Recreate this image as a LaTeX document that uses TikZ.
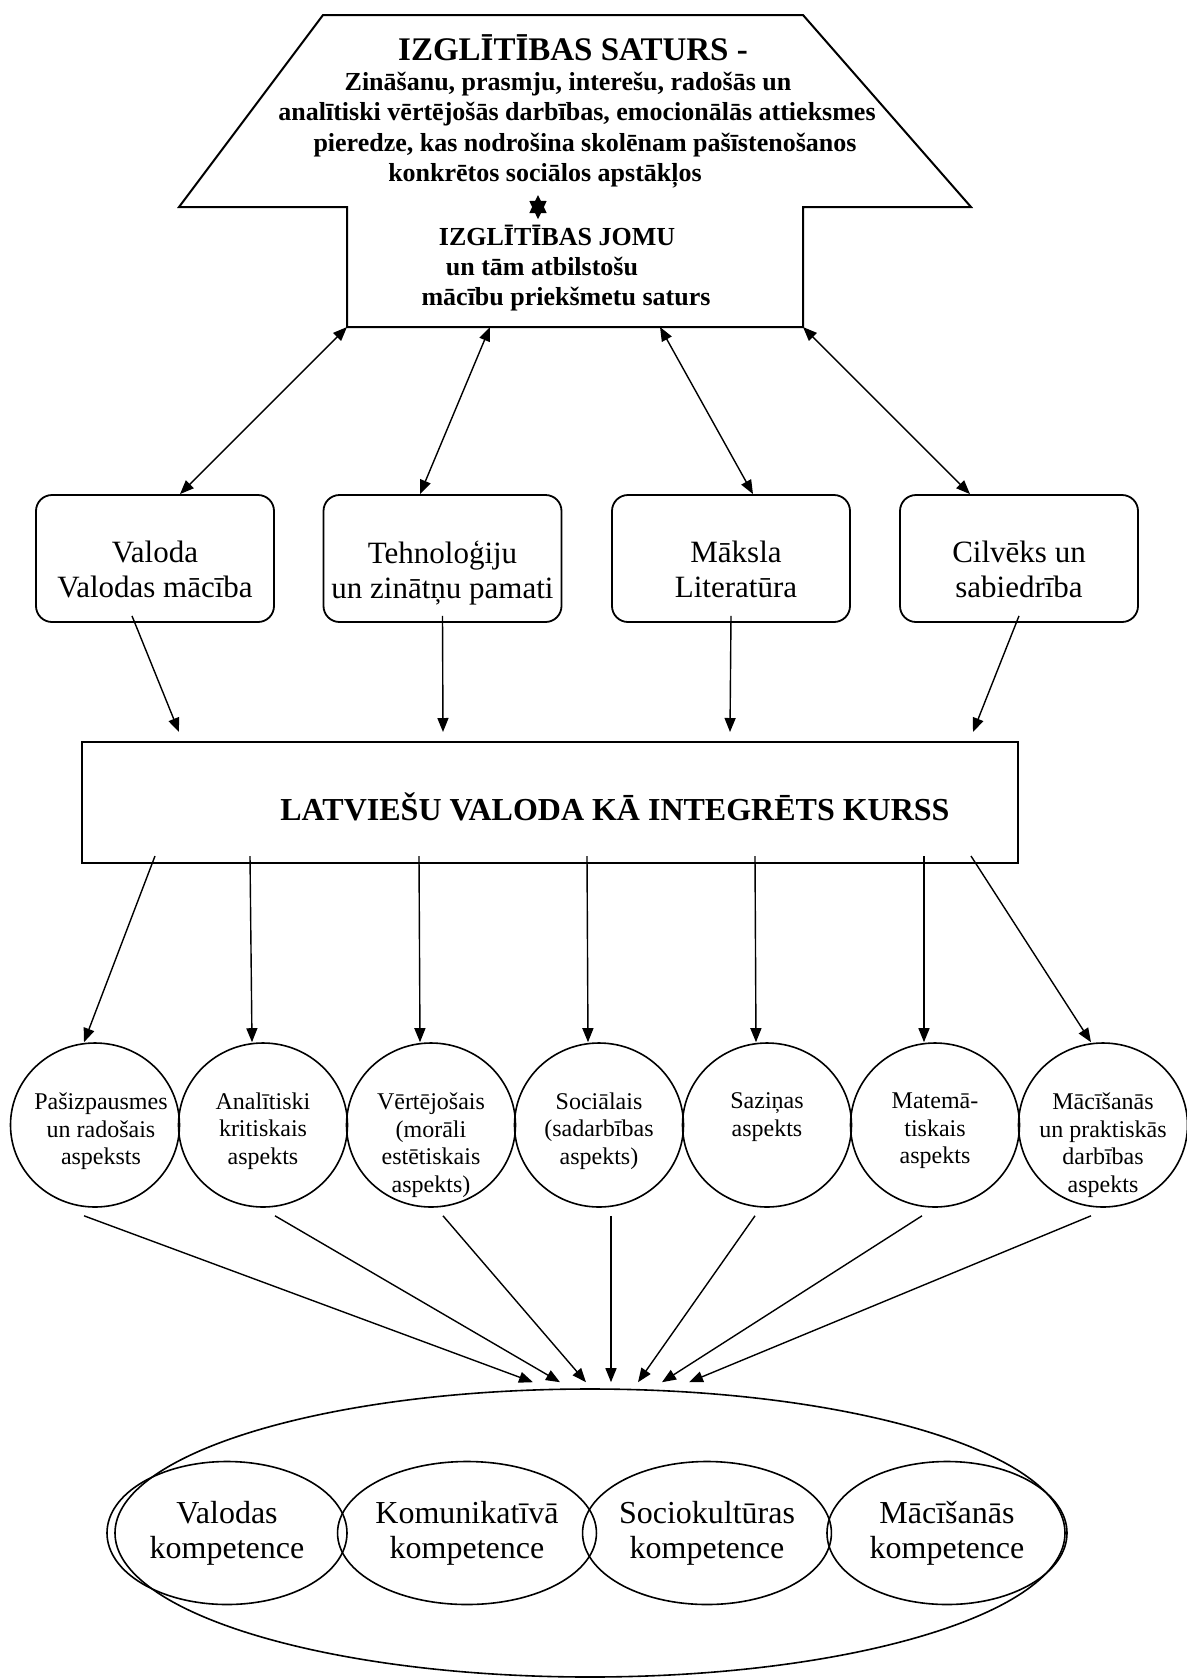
\documentclass[tikz,border=0pt]{standalone}
\usepackage{fontspec}
\setmainfont{Liberation Serif}
\usepackage{tikz}
\usetikzlibrary{arrows.meta, shapes.geometric}

\tikzset{
    area/.style={draw, rounded corners=8pt, line width=0.9pt, minimum width=119pt, minimum height=63.5pt, inner sep=0pt},
    areatext/.style={anchor=north, align=center, inner sep=0pt, font=\fontsize{15.5}{17.5}\selectfont},
    aspect/.style={draw, ellipse, line width=0.8pt, minimum width=84.5pt, minimum height=82pt, inner sep=0pt},
    aspecttext/.style={anchor=north, align=center, inner sep=0pt, font=\fontsize{12}{13.8}\selectfont},
    comp/.style={draw, ellipse, line width=0.8pt, minimum width=120pt, minimum height=71.5pt, inner sep=0pt, align=center, font=\fontsize{16}{17.5}\selectfont},
    head/.style={anchor=base, inner sep=0pt, font=\bfseries\fontsize{13}{15}\selectfont}
}

\begin{document}
\begin{tikzpicture}[x=0.5pt, y=-0.5pt, >={Triangle[length=7pt,width=5.5pt]}, line width=0.7pt]
    \useasboundingbox (0,0) rectangle (1187,1678);

    % top shape
    \draw[line width=1pt] (323,15) -- (803,15) -- (971,207) -- (803,207) -- (803,327) -- (347,327) -- (347,207) -- (179,207) -- cycle;
    \node[head, font=\bfseries\fontsize{16.5}{18}\selectfont] (ttl) at (573,60) {IZGLĪTĪBAS SATURS -};
    \node[head] (tl1) at (568,90.7) {Zināšanu, prasmju, interešu, radošās un};
    \node[head] (tl2) at (577,120.7) {analītiski vērtējošās darbības, emocionālās attieksmes};
    \node[head] (tl3) at (585,151.7) {pieredze, kas nodrošina skolēnam pašīstenošanos};
    \node[head] (tl4) at (545,181.7) {konkrētos sociālos apstākļos};
    \node[star, star points=6, star point ratio=1.7, fill, inner sep=0pt, minimum size=10pt, yscale=1.2] (st) at (538,207) {};
    \node[head] (jm1) at (557,245) {IZGLĪTĪBAS JOMU};
    \node[head] (jm2) at (542,275) {un tām atbilstošu};
    \node[head] (jm3) at (566,305) {mācību priekšmetu saturs};
    \coordinate (b1) at (347,327);
    \coordinate (b2) at (490,327);
    \coordinate (b3) at (660,327);
    \coordinate (b4) at (803,327);

    % areas
    \node[area] (val) at (155,558.5) {};
    \node[area] (teh) at (442.5,558.5) {};
    \node[area] (mak) at (731,558.5) {};
    \node[area] (cil) at (1019,558.5) {};
    \node[areatext] (valT) at (155,540) {Valoda\\Valodas mācība};
    \node[areatext] (tehT) at (442.5,540) {Tehnoloģiju\\un zinātņu pamati};
    \node[areatext] (makT) at (736,540) {Māksla\\Literatūra};
    \node[areatext] (cilT) at (1019,540) {Cilvēks un\\sabiedrība};

    \draw[<->] ([xshift=12.5pt]val.north) -- (b1);
    \draw[<->] ([xshift=-11.25pt]teh.north) -- (b2);
    \draw[<->] ([xshift=11pt]mak.north) -- (b3);
    \draw[<->] ([xshift=-24.5pt]cil.north) -- (b4);

    % course
    \node[draw, line width=1pt, minimum width=468pt, minimum height=60.5pt, inner sep=0pt] (lv) at (550,802.5) {};
    \node[anchor=base, inner sep=0pt, font=\bfseries\fontsize{16}{18}\selectfont] (lvT) at (615,820) {LATVIEŠU VALODA KĀ INTEGRĒTS KURSS};

    \draw[->] ([xshift=-11.5pt,yshift=3.5pt]val.south) -- ([xshift=-185.5pt,yshift=4.5pt]lv.north);
    \draw[->] ([yshift=3.5pt]teh.south) -- ([xshift=-53.5pt,yshift=4.5pt]lv.north);
    \draw[->] ([yshift=3.5pt]mak.south) -- ([xshift=90pt,yshift=4.5pt]lv.north);
    \draw[->] ([yshift=3.5pt]cil.south) -- ([xshift=211.5pt,yshift=4.5pt]lv.north);

    % aspects
    \node[aspect] (a1) at (95,1125) {};
    \node[aspect] (a2) at (263,1125) {};
    \node[aspect] (a3) at (431,1125) {};
    \node[aspect] (a4) at (599,1125) {};
    \node[aspect] (a5) at (767,1125) {};
    \node[aspect] (a6) at (935,1125) {};
    \node[aspect] (a7) at (1103,1125) {};
    \node[aspecttext] (a1T) at (101,1092) {Pašizpausmes\\un radošais\\aspeksts};
    \node[aspecttext] (a2T) at (263,1092) {Analītiski\\kritiskais\\aspekts};
    \node[aspecttext] (a3T) at (431,1092) {Vērtējošais\\(morāli\\estētiskais\\aspekts)};
    \node[aspecttext] (a4T) at (599,1092) {Sociālais\\(sadarbības\\aspekts)};
    \node[aspecttext] (a5T) at (767,1092) {Saziņas\\aspekts};
    \node[aspecttext] (a6T) at (935,1092) {Matemā-\\tiskais\\aspekts};
    \node[aspecttext] (a7T) at (1103,1092) {Mācīšanās\\un praktiskās\\darbības\\aspekts};

    \draw[->] ([xshift=-197.5pt,yshift=4pt]lv.south) -- ([xshift=-5.5pt]a1.north);
    \draw[->] ([xshift=-150pt,yshift=4pt]lv.south) -- ([xshift=-5.5pt]a2.north);
    \draw[->] ([xshift=-65.5pt,yshift=4pt]lv.south) -- ([xshift=-5.5pt]a3.north);
    \draw[->] ([xshift=18.5pt,yshift=4pt]lv.south) -- ([xshift=-5.5pt]a4.north);
    \draw[->] ([xshift=102.5pt,yshift=4pt]lv.south) -- ([xshift=-5.5pt]a5.north);
    \draw[->] ([xshift=187pt,yshift=4pt]lv.south) -- ([xshift=-5.5pt]a6.north);
    \draw[->] ([xshift=210.5pt,yshift=4pt]lv.south) -- ([xshift=-6pt]a7.north);

    % competences
    \node[draw, ellipse, line width=0.8pt, minimum width=475pt, minimum height=144pt, inner sep=0pt] (all) at (590,1533) {};
    \node[comp] (k1) at (227,1533) {Valodas\\kompetence};
    \node[comp] (k2) at (467,1533) {Komunikatīvā\\kompetence};
    \node[comp] (k3) at (707,1533) {Sociokultūras\\kompetence};
    \node[comp] (k4) at (947,1533) {Mācīšanās\\kompetence};

    \draw[->] ([xshift=-5.5pt,yshift=-4pt]a1.south) -- ([xshift=-28.5pt,yshift=3pt]all.north);
    \draw[->] ([xshift=6pt,yshift=-4pt]a2.south) -- ([xshift=-15pt,yshift=3pt]all.north);
    \draw[->] ([xshift=6pt,yshift=-4pt]a3.south) -- ([xshift=-2pt,yshift=3pt]all.north);
    \draw[->] ([xshift=6pt,yshift=-4pt]a4.south) -- ([xshift=10.5pt,yshift=3pt]all.north);
    \draw[->] ([xshift=-6pt,yshift=-4pt]a5.south) -- ([xshift=24pt,yshift=3pt]all.north);
    \draw[->] ([xshift=-6.5pt,yshift=-4pt]a6.south) -- ([xshift=36pt,yshift=3pt]all.north);
    \draw[->] ([xshift=-6pt,yshift=-4pt]a7.south) -- ([xshift=49.5pt,yshift=3pt]all.north);
\end{tikzpicture}
\end{document}
